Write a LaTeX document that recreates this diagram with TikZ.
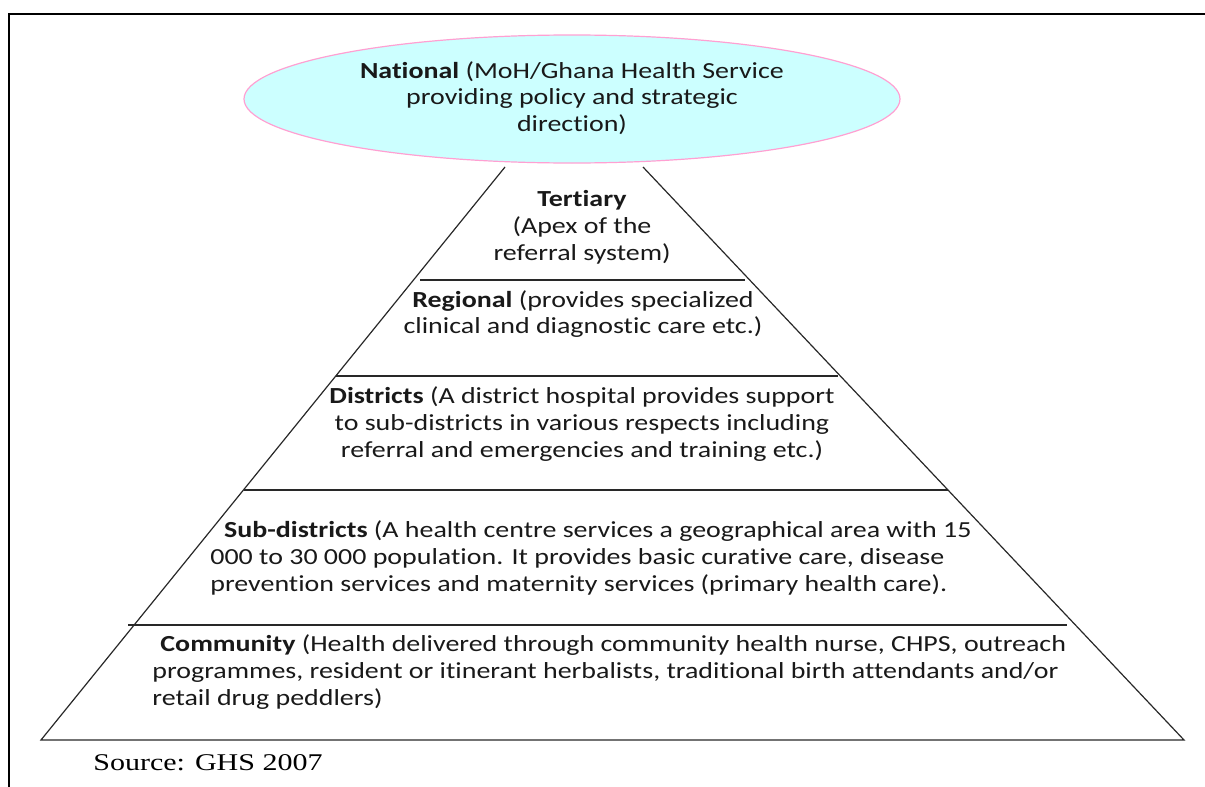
\documentclass[tikz,border=0pt]{standalone}
\usepackage{fontspec}
\usetikzlibrary{shapes.geometric}
\setmainfont{Carlito}[FakeStretch=1.215, Ligatures=NoCommon]
\newfontfamily\srcfont{Liberation Serif}[FakeStretch=1.25]
\definecolor{nationalfill}{RGB}{204,255,255}
\definecolor{nationaledge}{RGB}{255,160,210}
\definecolor{levelline}{RGB}{40,40,40}
\tikzset{
  level/.style={font=\fontsize{11.5}{13.4}\selectfont, inner sep=0pt, text=black!90},
  sepline/.style={levelline, line width=0.7pt},
}
\begin{document}
\begin{tikzpicture}[x=0.5pt, y=-0.5pt]
    \useasboundingbox (0,0) rectangle (1205,787);
    % --- Khung ---
    \draw[line width=1.1pt] (9,787) -- (9,14) -- (1205,14);

    % --- Các đỉnh của kim tự tháp ---
    \coordinate (topL) at (505,167);
    \coordinate (topR) at (643,167);
    \coordinate (botL) at (41,740);
    \coordinate (botR) at (1184,740);
    \draw[levelline, line width=0.6pt] (topL) -- (botL) -- (botR) -- (topR);

    % --- Các đường phân tầng ---
    \draw[sepline] (420,280) -- (745,280);
    \draw[sepline] (336,376) -- (838,376);
    \draw[sepline] (244,490) -- (948,490);
    \draw[sepline] (128,625) -- (1067,625);

    % --- Cấp quốc gia ---
    \node[ellipse, draw=nationaledge, fill=nationalfill, line width=0.6pt,
          minimum width=328pt, minimum height=64pt, inner sep=0pt] (natbox) at (572,99) {};
    \node[level, align=center] (national) at (572,98)
        {\textbf{National} (MoH/Ghana Health Service\\providing policy and strategic\\direction)};

    % --- Các tầng ---
    \node[level, align=center] (tertiary) at (582,227)
        {\textbf{Tertiary}\\(Apex of the\\referral system)};
    \node[level, align=center] (regional) at (583,314)
        {\textbf{Regional} (provides specialized\\clinical and diagnostic care etc.)};
    \node[level, align=center] (districts) at (582,424)
        {\textbf{Districts} (A district hospital provides support\\to sub-districts in various respects including\\referral and emergencies and training etc.)};
    \node[level, align=left, anchor=west] (subdistricts) at (210,558)
        {\hspace{0.6em}\textbf{Sub-districts} (A health centre services a geographical area with 15\\000 to 30 000 population. It provides basic curative care, disease\\prevention services and maternity services (primary health care).};
    \node[level, align=left, anchor=west] (community) at (152,672)
        {\hspace{0.35em}\textbf{Community} (Health delivered through community health nurse, CHPS, outreach\\programmes, resident or itinerant herbalists, traditional birth attendants and/or\\retail drug peddlers)};

    % --- Nguồn ---
    \node[anchor=west, inner sep=0pt, font=\srcfont\fontsize{12}{14}\selectfont] (source) at (93,763) {Source: GHS 2007};
\end{tikzpicture}
\end{document}
